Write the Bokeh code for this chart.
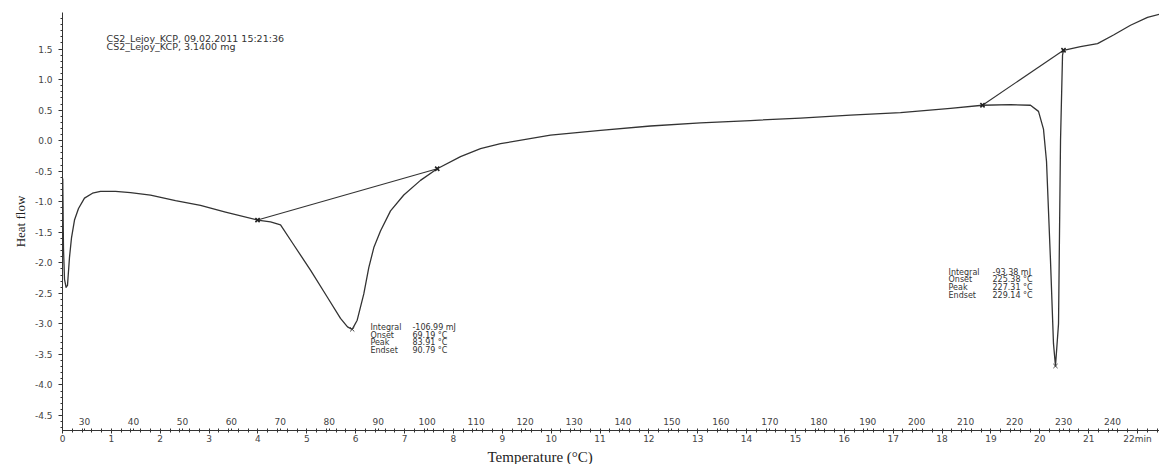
import numpy as np
from bokeh.plotting import figure
from bokeh.models import (Range1d, LinearAxis, FixedTicker, PrintfTickFormatter,
                          ColumnDataSource, Title)
from bokeh.core.properties import value
from bokeh.embed import file_html
from bokeh.resources import INLINE

# ---------------- data ----------------
temperature = [25.55, 25.70, 25.91, 26.22, 26.52, 26.93, 27.34, 27.95, 28.77, 29.99,
               31.63, 33.26, 36.33, 39.39, 43.48, 48.58, 53.69, 58.80, 65.34, 68.00,
               70.04, 72.69, 76.16, 79.58, 82.29, 83.72, 84.68, 85.70, 87.05, 88.07,
               89.10, 90.46, 92.51, 95.22, 98.63, 102.05, 106.81, 110.89, 114.98, 125.19,
               135.41, 145.62, 155.83, 166.05, 176.26, 186.48, 196.69, 206.90, 213.44, 219.16,
               223.25, 224.88, 225.90, 226.52, 227.33, 227.94, 228.35, 228.97, 229.38, 229.79,
               229.99, 233.46, 236.94, 240.21, 243.68, 247.15, 249.60]
heat_flow = [-0.62, -1.76, -2.27, -2.40, -2.37, -1.91, -1.59, -1.30, -1.11, -0.94,
             -0.86, -0.83, -0.83, -0.85, -0.89, -0.98, -1.06, -1.17, -1.30, -1.33,
             -1.38, -1.70, -2.12, -2.56, -2.91, -3.05, -3.09, -2.94, -2.51, -2.08,
             -1.75, -1.48, -1.15, -0.89, -0.65, -0.46, -0.26, -0.13, -0.05, 0.09,
             0.17, 0.24, 0.29, 0.33, 0.37, 0.42, 0.46, 0.53, 0.58, 0.59,
             0.58, 0.48, 0.19, -0.34, -1.96, -3.32, -3.69, -3.00, 0.00, 1.40,
             1.48, 1.54, 1.59, 1.73, 1.89, 2.02, 2.07]

baseline1_t = [65.34, 102.05]
baseline1_h = [-1.30, -0.46]
baseline2_t = [213.44, 229.99]
baseline2_h = [0.58, 1.48]
peak_t = [84.68, 228.35]
peak_h = [-3.09, -3.69]

temp_ticks = [30, 40, 50, 60, 70, 80, 90, 100, 110, 120, 130, 140, 150, 160,
              170, 180, 190, 200, 210, 220, 230, 240]
minute_ticks = list(range(0, 23))
heat_ticks = [-4.5, -4.0, -3.5, -3.0, -2.5, -2.0, -1.5, -1.0, -0.5, 0.0, 0.5, 1.0, 1.5]

annotation_names = ["Integral", "Onset", "Peak", "Endset"]
peak1_values = ["-106.99 mJ", "69.19 °C", "83.91 °C", "90.79 °C"]
peak2_values = ["-93.38 mJ", "225.38 °C", "227.31 °C", "229.14 °C"]
header_lines = ["CS2_Lejoy_KCP, 09.02.2011 15:21:36", "CS2_Lejoy_KCP, 3.1400 mg"]

# ---------------- figure ----------------
Y0, Y1 = -4.746, 2.099
p = figure(width=1159, height=464, output_backend="svg", toolbar_location=None,
           x_range=Range1d(25.5, 249.6), y_range=Range1d(Y0, Y1),
           x_axis_location=None, y_axis_location=None, title=None,
           min_border_left=62, min_border_right=0, min_border_top=12, min_border_bottom=0)
p.extra_x_ranges = {"minutes": Range1d(0, 22.45)}
p.outline_line_color = None
p.xgrid.visible = False
p.ygrid.visible = False
p.background_fill_color = "white"
p.border_fill_color = "white"

LBL = "#444444"
AX = "#333333"

# y axis
yaxis = LinearAxis(ticker=FixedTicker(ticks=heat_ticks,
                                      minor_ticks=list(np.round(np.arange(-4.7, 2.05, 0.1), 2))),
                   formatter=PrintfTickFormatter(format="%.1f"),
                   axis_label="Heat flow", axis_label_standoff=4,
                   axis_label_text_font="Liberation Serif", axis_label_text_font_size="13px",
                   axis_label_text_font_style="normal", axis_label_text_color="#222222",
                   major_label_text_font="DejaVu Sans", major_label_text_font_size="9px",
                   major_label_text_color=LBL, major_label_standoff=6,
                   axis_line_color=AX, major_tick_line_color=AX, minor_tick_line_color=AX,
                   major_tick_out=4, major_tick_in=0, minor_tick_out=2, minor_tick_in=0)
p.add_layout(yaxis, "left")

# minutes axis (bottom line)
min_axis = LinearAxis(x_range_name="minutes",
                      ticker=FixedTicker(ticks=minute_ticks,
                                         minor_ticks=list(np.round(np.arange(0, 22.45, 0.2), 2))),
                      major_label_overrides={22: "22min"},
                      major_label_text_font="DejaVu Sans", major_label_text_font_size="9px",
                      major_label_text_color=LBL, major_label_standoff=0,
                      axis_line_color=AX, major_tick_line_color=AX, minor_tick_line_color=AX,
                      major_tick_out=3, major_tick_in=0, minor_tick_out=2, minor_tick_in=2)
p.add_layout(min_axis, "below")

# temperature labels sitting on the bottom line
temp_axis = LinearAxis(ticker=FixedTicker(ticks=temp_ticks), fixed_location=Y0,
                       major_label_text_font="DejaVu Sans", major_label_text_font_size="9px",
                       major_label_text_color=LBL, major_label_standoff=4,
                       axis_line_color=None, major_tick_line_color=AX, minor_tick_line_color=None,
                       major_tick_out=2, major_tick_in=0)
p.add_layout(temp_axis, "above")

p.add_layout(Title(text="Temperature (°C)", align="left", offset=425, standoff=0,
                   text_font="Liberation Serif", text_font_size="15px",
                   text_font_style="normal", text_color="#222222"), "below")

# ---------------- marks ----------------
p.line(temperature, heat_flow, line_color="#333333", line_width=1.3, line_join="round")
p.line(baseline1_t, baseline1_h, line_color="#333333", line_width=1.1)
p.line(baseline2_t, baseline2_h, line_color="#333333", line_width=1.1)
p.scatter(baseline1_t + baseline2_t, baseline1_h + baseline2_h, marker="x", size=6,
          line_color="#222222", line_width=1.6)
p.scatter(peak_t, peak_h, marker="x", size=6, line_color="#444444", line_width=1.0)

TXT = dict(text_font=value("DejaVu Sans"), text_font_size="8px", text_color="#333333",
           text_baseline="middle", text_align="left")


def block(x, y, names, vals, dx):
    n = len(names)
    dy = [i * 7.6 for i in range(n)]
    src_n = ColumnDataSource(dict(x=[x] * n, y=[y] * n, t=names, dy=dy))
    p.text(x="x", y="y", text="t", y_offset="dy", source=src_n, **TXT)
    src_v = ColumnDataSource(dict(x=[x] * n, y=[y] * n, t=vals, dy=dy))
    p.text(x="x", y="y", text="t", y_offset="dy", x_offset=dx, source=src_v, **TXT)


block(88.4, -3.06, annotation_names, peak1_values, 42)
block(206.5, -2.157, annotation_names, peak2_values, 44)

hsrc = ColumnDataSource(dict(x=[34.5] * 2, y=[1.678] * 2, t=header_lines, dy=[0, 8.5]))
p.text(x="x", y="y", text="t", y_offset="dy", source=hsrc,
       text_font=value("DejaVu Sans"), text_font_size="9.5px", text_color="#333333",
       text_baseline="middle", text_align="left")

open("out.html", "w").write(file_html(p, INLINE))
